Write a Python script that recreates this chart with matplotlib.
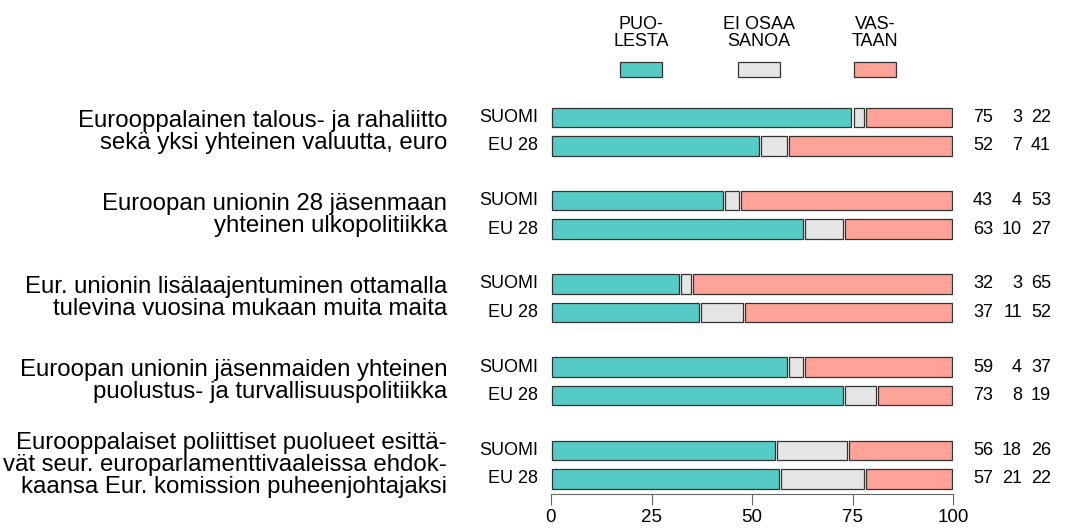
import numpy as np
import matplotlib.pyplot as plt

plt.rcParams['font.family'] = ['Liberation Sans', 'DejaVu Sans']

# data
groups = ['Eurooppalainen talous- ja rahaliitto\nsekä yksi yhteinen valuutta, euro',
          'Euroopan unionin 28 jäsenmaan\nyhteinen ulkopolitiikka',
          'Eur. unionin lisälaajentuminen ottamalla\ntulevina vuosina mukaan muita maita',
          'Euroopan unionin jäsenmaiden yhteinen\npuolustus- ja turvallisuuspolitiikka',
          'Eurooppalaiset poliittiset puolueet esittä-\nvät seur. europarlamenttivaaleissa ehdok-\nkaansa Eur. komission puheenjohtajaksi']
rows = ['SUOMI', 'EU 28']
series = ['PUO-\nLESTA', 'EI OSAA\nSANOA', 'VAS-\nTAAN']
puolesta = [75, 52, 43, 63, 32, 37, 59, 73, 56, 57]
ei_osaa = [3, 7, 4, 10, 3, 11, 4, 8, 18, 21]
vastaan = [22, 41, 53, 27, 65, 52, 37, 19, 26, 22]
colors = ['#56cac5', '#e5e5e5', '#ffa399']

W, H = 1067, 528
fig = plt.figure(figsize=(W/100, H/100), dpi=100)
ax = fig.add_axes([551/W, (H-494)/H, (953-551)/W, (494-100)/H])
ax.set_xlim(0, 100)
ax.set_ylim(494, 100)

# row centres in pixel units
ypos = []
for g in range(len(groups)):
    base = 117.5 + 83.2*g
    ypos += [base, base + 28.5]
ypos = np.array(ypos)

vals = np.array([puolesta, ei_osaa, vastaan])
left = np.zeros(len(ypos))
for k in range(3):
    ax.barh(ypos, vals[k] - 0.5, left=left + 0.25, height=19.5, color=colors[k],
            edgecolor='#333333', linewidth=0.9)
    left += vals[k]

for i, y in enumerate(ypos):
    ax.text(-3.2, y, rows[i % 2], ha='right', va='center', fontsize=13)
    for k, xr in enumerate([993, 1022, 1051]):
        fig.text(xr/W, (H-y)/H, str(vals[k][i]), ha='right', va='center', fontsize=13)

for g, label in enumerate(groups):
    yc = (ypos[2*g] + ypos[2*g+1]) / 2
    fig.text(447/W, (H-yc)/H, label, ha='right', va='center', fontsize=17.3,
             linespacing=1.0)

# legend
for k, xc in enumerate([641, 759, 875]):
    fig.patches.append(plt.Rectangle(((xc-21)/W, (H-77)/H), 42/W, 15/H,
                                     transform=fig.transFigure, facecolor=colors[k],
                                     edgecolor='#333333', linewidth=0.9))
    fig.text(xc/W, (H-33)/H, series[k], ha='center', va='center', fontsize=13,
             linespacing=1.0)

for s in ['top', 'right', 'left']:
    ax.spines[s].set_visible(False)
ax.spines['bottom'].set_bounds(0, 100)
ax.spines['bottom'].set_color('#666666')
ax.set_yticks([])
ax.set_xticks([0, 25, 50, 75, 100])
ax.tick_params(axis='x', length=8, color='#666666', labelsize=13.5, pad=3)

fig.savefig('out.png', dpi=100)
